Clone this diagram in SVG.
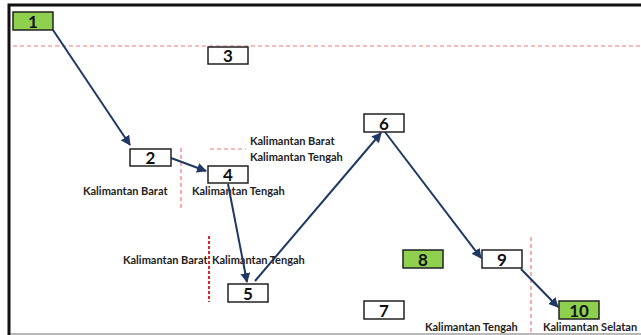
<svg xmlns="http://www.w3.org/2000/svg" width="641" height="335" viewBox="0 0 641 335">
  <defs>
    <marker id="arrow" viewBox="0 0 10 10" refX="9" refY="5" markerWidth="5" markerHeight="5" orient="auto" markerUnits="strokeWidth">
      <path d="M0,0 L10,5 L0,10 Z" fill="#1f3864"/>
    </marker>
    <style>
      .box { fill: #ffffff; stroke: #222222; stroke-width: 1.5; }
      .box.green { fill: #8fd14f; }
      .num { font-family: Lato, "Open Sans", "Liberation Sans", sans-serif; font-weight: bold; font-size: 17px; fill: #111111; text-anchor: middle; }
      .lbl { font-family: Lato, "Open Sans", "Liberation Sans", sans-serif; font-weight: bold; font-size: 11px; fill: #222222; }
      .edge { fill: none; stroke: #1f3864; stroke-width: 2; marker-end: url(#arrow); }
      .div { fill: none; stroke: #f07878; stroke-width: 1.2; stroke-dasharray: 4 3; }
      .div.strong { stroke: #e0202a; stroke-width: 2; stroke-dasharray: 3 2; }
    </style>
  </defs>

  <rect width="641" height="335" fill="#ffffff"/>

  <!-- frame -->
  <line x1="9" y1="334" x2="641" y2="334" stroke="#a0a0a0" stroke-width="1.5"/>
  <path d="M9,335 V5 H641" fill="none" stroke="#111111" stroke-width="3"/>

  <!-- province boundaries -->
  <g id="boundaries">
    <line class="div" x1="13" y1="46" x2="641" y2="46"/>
    <line class="div" x1="210" y1="149" x2="246" y2="149"/>
    <line class="div" x1="181" y1="148" x2="181" y2="210"/>
    <line class="div strong" x1="209" y1="236" x2="209" y2="302"/>
    <line class="div" x1="531" y1="237" x2="531" y2="335"/>
  </g>

  <!-- region labels -->
  <g id="labels">
    <text class="lbl" x="250" y="145">Kalimantan Barat</text>
    <text class="lbl" x="250" y="161">Kalimantan Tengah</text>
    <text class="lbl" x="83" y="195">Kalimantan Barat</text>
    <text class="lbl" x="192" y="195">Kalimantan Tengah</text>
    <text class="lbl" x="123" y="264">Kalimantan Barat</text>
    <text class="lbl" x="212" y="264">Kalimantan Tengah</text>
    <text class="lbl" x="425" y="331">Kalimantan Tengah</text>
    <text class="lbl" x="543" y="331">Kalimantan Selatan</text>
  </g>

  <!-- connectors -->
  <g id="connectors">
    <line class="edge" x1="53" y1="30" x2="130" y2="145"/>
    <line class="edge" x1="171" y1="158" x2="206" y2="171"/>
    <line class="edge" x1="228" y1="184" x2="247" y2="282"/>
    <line class="edge" x1="255" y1="281" x2="381" y2="133"/>
    <line class="edge" x1="385" y1="132" x2="481" y2="258"/>
    <line class="edge" x1="521" y1="269" x2="558" y2="307"/>
  </g>

  <!-- nodes -->
  <g id="node-1"><rect class="box green" x="13" y="12" width="40" height="18"/><text class="num" x="33" y="27.5">1</text></g>
  <g id="node-2"><rect class="box" x="130" y="149" width="41" height="17"/><text class="num" x="150.5" y="164">2</text></g>
  <g id="node-3"><rect class="box" x="208" y="47" width="40" height="17"/><text class="num" x="228" y="62">3</text></g>
  <g id="node-4"><rect class="box" x="208" y="166" width="40" height="17"/><text class="num" x="228" y="181">4</text></g>
  <g id="node-5"><rect class="box" x="228" y="284" width="40" height="18"/><text class="num" x="248" y="299.5">5</text></g>
  <g id="node-6"><rect class="box" x="364" y="114" width="40" height="18"/><text class="num" x="384" y="129.5">6</text></g>
  <g id="node-7"><rect class="box" x="364" y="301" width="40" height="18"/><text class="num" x="384" y="316.5">7</text></g>
  <g id="node-8"><rect class="box green" x="403" y="250" width="40" height="18"/><text class="num" x="423" y="265.5">8</text></g>
  <g id="node-9"><rect class="box" x="482" y="250" width="40" height="18"/><text class="num" x="502" y="265.5">9</text></g>
  <g id="node-10"><rect class="box green" x="559" y="301" width="40" height="18"/><text class="num" x="579" y="316.5">10</text></g>
</svg>
